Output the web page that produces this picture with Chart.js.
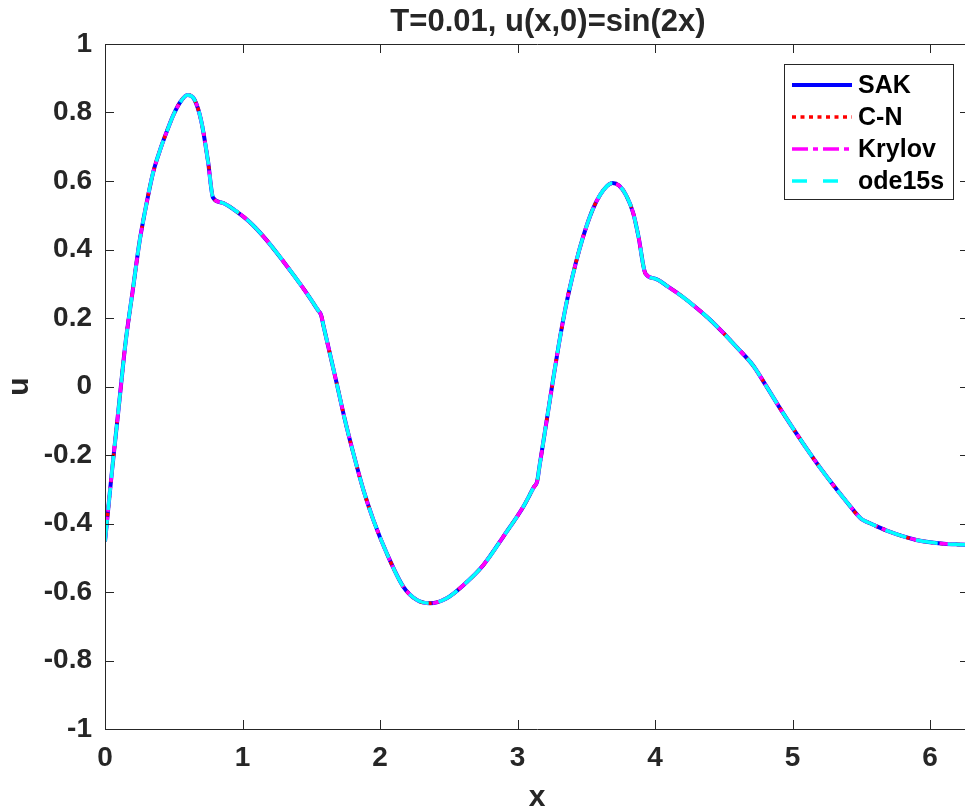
<!DOCTYPE html>
<html>
<head>
<meta charset="utf-8">
<script src="https://cdn.jsdelivr.net/npm/chart.js@4.4.1/dist/chart.umd.min.js"></script>
<style>
  html, body { margin: 0; padding: 0; background: #fff; overflow: hidden; }
  #wrap { width: 969px; height: 810px; }
</style>
</head>
<body>
<div id="wrap"><canvas id="solChart" width="969" height="810"></canvas></div>
<script>
// sample points (all four solvers overlap)
const xs = [0, 0.024, 0.05, 0.1, 0.15, 0.2, 0.25, 0.3, 0.35, 0.4, 0.45, 0.5, 0.55, 0.6, 0.65, 0.7, 0.75, 0.785,
  0.85, 0.95, 1.05, 1.15, 1.25, 1.35, 1.45, 1.55, 1.571, 1.59, 1.624, 1.685, 1.745, 1.806, 1.879, 1.952, 2.049, 2.17,
  2.267, 2.364, 2.485, 2.606, 2.752, 2.897, 3.042, 3.12, 3.142, 3.16, 3.2, 3.25, 3.3, 3.35, 3.4, 3.45, 3.5, 3.55,
  3.6, 3.65, 3.69, 3.74, 3.79, 3.84, 3.88, 3.93, 4.0, 4.1, 4.2, 4.3, 4.4, 4.5, 4.6, 4.712, 4.8, 4.9, 5.0, 5.1,
  5.2, 5.3, 5.4, 5.498, 5.55, 5.6, 5.7, 5.8, 5.9, 6.0, 6.1, 6.2, 6.283];
const uSAK = [-0.453, -0.355, -0.25, -0.06, 0.13, 0.275, 0.42, 0.53, 0.625, 0.69, 0.745, 0.795, 0.832, 0.851, 0.838, 0.775, 0.655, 0.552,
  0.537, 0.513, 0.481, 0.439, 0.39, 0.337, 0.282, 0.222, 0.209, 0.175, 0.116, 0.009, -0.098, -0.195, -0.302, -0.390, -0.487, -0.585,
  -0.623, -0.633, -0.618, -0.580, -0.521, -0.438, -0.351, -0.293, -0.278, -0.232, -0.13, -0.002, 0.122, 0.232, 0.322, 0.40, 0.466, 0.52,
  0.559, 0.585, 0.594, 0.586, 0.558, 0.508, 0.437, 0.33, 0.315, 0.29, 0.262, 0.23, 0.195, 0.155, 0.112, 0.062, 0.007, -0.058, -0.12, -0.18,
  -0.237, -0.29, -0.34, -0.386, -0.397, -0.406, -0.423, -0.437, -0.448, -0.455, -0.459, -0.461, -0.462];
const uCN = uSAK;
const uKrylov = uSAK;
const uOde15s = uSAK;

const seriesNames = ['SAK', 'C-N', 'Krylov', 'ode15s'];
const xTicks = [0, 1, 2, 3, 4, 5, 6];
const yTicks = [-1, -0.8, -0.6, -0.4, -0.2, 0, 0.2, 0.4, 0.6, 0.8, 1];

const FONT = '"Liberation Sans", Arial, Helvetica, sans-serif';
const INK = '#262626';

function pts(ys) {
  return xs.map((x, i) => ({ x: x, y: ys[i] }));
}

const styles = [
  { color: '#0000ff', width: 4, dash: [], legendDash: [] },
  { color: '#ff0000', width: 3.5, dash: [3.5, 5], legendDash: [4, 4.5] },
  { color: '#ff00ff', width: 3.5, dash: [16, 5, 4, 5], legendDash: [16, 5, 5, 5] },
  { color: '#00ffff', width: 3.5, dash: [22, 10], legendDash: [15, 16] }
];

const allSeries = [uSAK, uCN, uKrylov, uOde15s];

// higher order is drawn first, so SAK ends up underneath
const datasets = allSeries.map((ys, i) => ({
  label: seriesNames[i],
  data: pts(ys),
  order: allSeries.length - i,
  borderColor: styles[i].color,
  borderWidth: styles[i].width,
  borderDash: styles[i].dash,
  pointRadius: 0,
  fill: false,
  cubicInterpolationMode: 'monotone'
}));

// box with inward tick marks, like the matlab axes
const axesBox = {
  id: 'axesBox',
  afterDraw(chart) {
    const { ctx, chartArea: a } = chart;
    const xs_ = chart.scales.x, ys_ = chart.scales.y;
    const tl = 9;
    ctx.save();
    ctx.strokeStyle = INK;
    ctx.lineWidth = 1;
    ctx.beginPath();
    ctx.rect(a.left + 0.5, a.top + 0.5, a.right - a.left, a.bottom - a.top);
    xTicks.forEach(v => {
      const px = Math.round(xs_.getPixelForValue(v)) + 0.5;
      ctx.moveTo(px, a.bottom); ctx.lineTo(px, a.bottom - tl);
      ctx.moveTo(px, a.top); ctx.lineTo(px, a.top + tl);
    });
    yTicks.forEach(v => {
      const py = Math.round(ys_.getPixelForValue(v)) + 0.5;
      ctx.moveTo(a.left, py); ctx.lineTo(a.left + tl, py);
      ctx.moveTo(a.right, py); ctx.lineTo(a.right - tl, py);
    });
    ctx.stroke();

    // title
    ctx.fillStyle = INK;
    ctx.font = 'bold 31px ' + FONT;
    ctx.textAlign = 'center';
    ctx.textBaseline = 'middle';
    ctx.fillText('T=0.01, u(x,0)=sin(2x)', 548, 22);

    // legend
    const lx = 784, ly = 64, lw = 169, lh = 135;
    ctx.fillStyle = '#fff';
    ctx.fillRect(lx, ly, lw, lh);
    ctx.strokeStyle = INK;
    ctx.strokeRect(lx + 0.5, ly + 0.5, lw, lh);
    const rows = [85, 117, 149, 181];
    ctx.font = 'bold 25px ' + FONT;
    ctx.textAlign = 'left';
    seriesNames.forEach((name, i) => {
      ctx.beginPath();
      ctx.strokeStyle = styles[i].color;
      ctx.lineWidth = styles[i].width;
      ctx.setLineDash(styles[i].legendDash);
      ctx.moveTo(792, rows[i]);
      ctx.lineTo(852, rows[i]);
      ctx.stroke();
      ctx.setLineDash([]);
      ctx.fillStyle = '#000';
      ctx.fillText(name, 858, rows[i] + 1);
    });
    ctx.restore();
  }
};

new Chart(document.getElementById('solChart'), {
  type: 'line',
  data: { datasets: datasets },
  plugins: [axesBox],
  options: {
    responsive: false,
    animation: false,
    layout: { padding: { top: 44, left: 0, right: 0, bottom: 0 } },
    plugins: {
      legend: { display: false },
      title: { display: false },
      tooltip: { enabled: false }
    },
    scales: {
      x: {
        type: 'linear',
        min: 0,
        max: 2 * Math.PI,
        afterBuildTicks: s => { s.ticks = xTicks.map(v => ({ value: v })); },
        afterFit: s => { s.height = 81; },
        grid: { display: false, drawTicks: false },
        border: { display: false },
        ticks: {
          color: INK,
          padding: 12,
          maxRotation: 0,
          font: { family: FONT, size: 28, weight: 'bold' },
          callback: v => String(v)
        },
        title: {
          display: true,
          text: 'x',
          color: INK,
          padding: { top: 0, bottom: -3 },
          font: { family: FONT, size: 30, weight: 'bold', lineHeight: 1 }
        }
      },
      y: {
        type: 'linear',
        min: -1,
        max: 1,
        afterBuildTicks: s => { s.ticks = yTicks.map(v => ({ value: v })); },
        afterFit: s => { s.width = 105; },
        grid: { display: false, drawTicks: false },
        border: { display: false },
        ticks: {
          color: INK,
          padding: 13,
          font: { family: FONT, size: 28, weight: 'bold' },
          callback: v => String(Number(v.toFixed(1)))
        },
        title: {
          display: true,
          text: 'u',
          color: INK,
          padding: { top: 5, bottom: 0 },
          font: { family: FONT, size: 30, weight: 'bold', lineHeight: 1 }
        }
      }
    }
  }
});
</script>
</body>
</html>
